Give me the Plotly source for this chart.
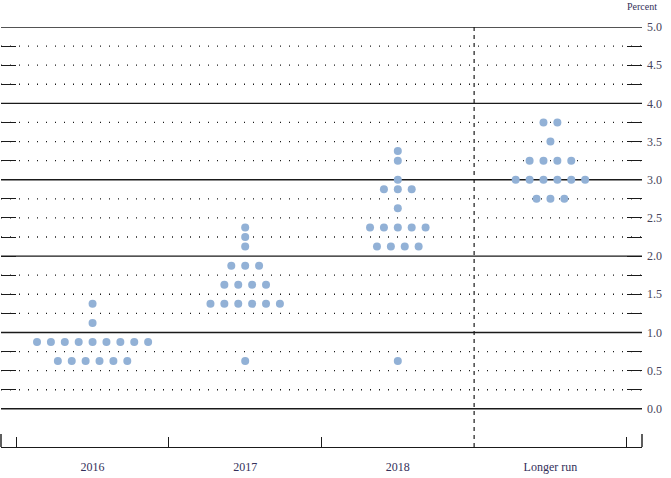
import numpy as np
import plotly.graph_objects as go

# FOMC-style dot plot: projections of the federal funds rate
periods = ["2016", "2017", "2018", "Longer run"]

rates_2016 = [1.375, 1.125, 0.875, 0.625]
counts_2016 = [1, 1, 9, 6]

rates_2017 = [2.375, 2.25, 2.125, 1.875, 1.625, 1.375, 0.625]
counts_2017 = [1, 1, 1, 3, 4, 6, 1]

rates_2018 = [3.375, 3.25, 3.0, 2.875, 2.625, 2.375, 2.125, 0.625]
counts_2018 = [1, 1, 1, 3, 1, 5, 4, 1]

rates_lr = [3.75, 3.5, 3.25, 3.0, 2.75]
counts_lr = [2, 1, 4, 6, 3]

grid_levels = list(np.arange(0, 5.01, 0.25))
label_levels = [0.0, 0.5, 1.0, 1.5, 2.0, 2.5, 3.0, 3.5, 4.0, 4.5, 5.0]

columns = [
    (rates_2016, counts_2016),
    (rates_2017, counts_2017),
    (rates_2018, counts_2018),
    (rates_lr, counts_lr),
]

DOT_STEP = 0.091
dot_color = "#92b1d6"
text_color = "#34305a"
font_name = "Liberation Serif"

xs, ys = [], []
for col, (rates, counts) in enumerate(columns):
    for r, n in zip(rates, counts):
        for i in range(n):
            xs.append(col + (i - (n - 1) / 2) * DOT_STEP)
            ys.append(r)

fig = go.Figure()

shapes = []
for lv in grid_levels:
    is_int = abs(lv - round(lv)) < 1e-9
    shapes.append(dict(
        type="line", xref="paper", x0=0, x1=1, yref="y", y0=lv, y1=lv,
        line=dict(color="#1a1a1a", width=1.4 if is_int else 1.3,
                  dash="solid" if is_int else "1px,8px"),
        layer="below",
    ))

# divider between dated projections and the longer run
shapes.append(dict(
    type="line", xref="x", x0=2.5, x1=2.5, yref="paper", y0=0, y1=1,
    line=dict(color="#1a1a1a", width=1.2, dash="4px,4px"), layer="below",
))
# taller ticks at the two ends of the bottom axis
for xp in [0, 1]:
    shapes.append(dict(
        type="line", xref="paper", x0=xp, x1=xp, yref="y", y0=-0.5, y1=-0.33,
        line=dict(color="#1a1a1a", width=1.4),
    ))

fig.add_trace(go.Scatter(
    x=xs, y=ys, mode="markers",
    marker=dict(size=8, color=dot_color, line=dict(width=0)),
    hoverinfo="y", showlegend=False,
))

fig.update_layout(
    width=671, height=478,
    margin=dict(l=1, r=29, t=27, b=31),
    paper_bgcolor="white", plot_bgcolor="white",
    shapes=shapes,
    font=dict(family=font_name, color=text_color, size=12),
    xaxis=dict(
        range=[-0.6, 3.6],
        tickvals=[0, 1, 2, 3], ticktext=periods,
        ticks="", showgrid=False, zeroline=False,
        showline=True, linecolor="#1a1a1a", linewidth=1.4,
        ticklabelstandoff=8,
        tickfont=dict(family=font_name, size=12, color=text_color),
        minor=dict(tickvals=[-0.5, 0.5, 1.5, 3.5], ticks="inside",
                   ticklen=10, tickcolor="#1a1a1a", tickwidth=1.4,
                   showgrid=False),
        fixedrange=True,
    ),
    yaxis=dict(
        range=[-0.5, 5.0], side="right",
        tickvals=grid_levels,
        ticktext=[f"{v:.1f}" if v in label_levels else "" for v in grid_levels],
        ticks="inside", ticklen=15, tickcolor="#1a1a1a", tickwidth=1.4,
        mirror="ticks", showline=False, ticklabelstandoff=4,
        showgrid=False, zeroline=False, automargin=False,
        tickfont=dict(family=font_name, size=12, color="#46445a"),
        fixedrange=True,
    ),
    annotations=[dict(
        text="Percent", xref="paper", yref="paper", x=1, y=1,
        xanchor="center", yanchor="middle", yshift=21, showarrow=False,
        font=dict(family=font_name, size=10, color=text_color),
    )],
)

fig.write_html("out.html", config={"displayModeBar": False},
               post_script="document.body.style.margin='0';")
